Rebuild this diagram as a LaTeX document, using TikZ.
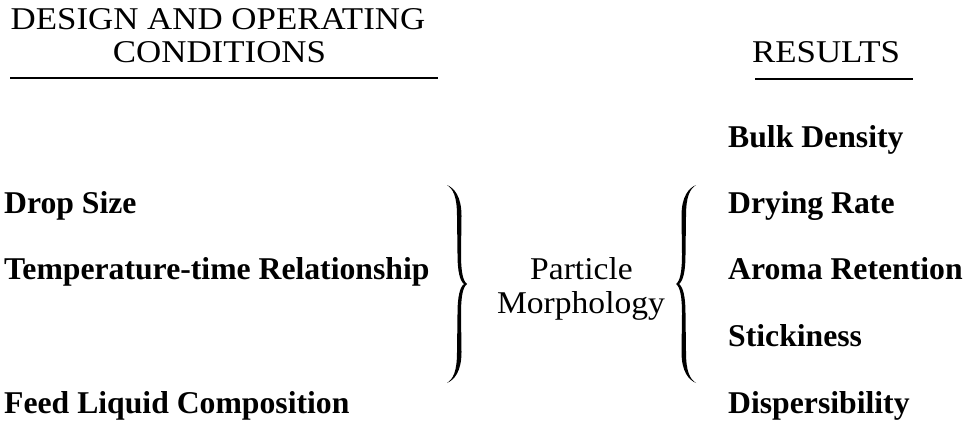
\documentclass[tikz,border=0pt]{standalone}
\usepackage{fontspec}
\setmainfont{Liberation Serif}
\newfontfamily\headfont[FakeStretch=1.1]{Liberation Serif}
\newfontfamily\midfont[FakeStretch=1.06]{Liberation Serif}
\usepackage{tikz}

\tikzset{
  item/.style={anchor=base west, inner sep=0pt, font=\fontsize{31.7}{36}\selectfont\bfseries},
  head/.style={anchor=base, inner sep=0pt, font=\fontsize{31.7}{36}\headfont},
  mid/.style={anchor=base, inner sep=0pt, font=\fontsize{31.7}{36}\midfont},
  rule/.style={black, line width=2pt},
  % llave que abre hacia la izquierda, punta a la derecha
  curly/.pic={
    \fill (-10,-99) .. controls (-3,-96) and (4.5,-88) .. (4.5,-68) -- (4,-30)
      .. controls (4,-12) and (6,-3) .. (10,0)
      .. controls (6,3) and (4,12) .. (4,30) -- (4.5,68)
      .. controls (4.5,88) and (-3,96) .. (-10,99)
      .. controls (-4,95) and (0,88) .. (0,68) -- (0.5,30)
      .. controls (0.5,12) and (3,3) .. (7,0)
      .. controls (3,-3) and (0.5,-12) .. (0.5,-30) -- (0,-68)
      .. controls (0,-88) and (-4,-95) .. (-10,-99) -- cycle;
  },
}

\begin{document}
\begin{tikzpicture}[x=1pt,y=-1pt]

    \useasboundingbox (0,0) rectangle (979,420);

    % titulos
    \node[head] (cond1) at (218,30) {DESIGN AND OPERATING};
    \node[head] (cond2) at (219.5,63) {CONDITIONS};
    \node[head] (res) at (826,63) {RESULTS};
    \draw[rule] (10,78) -- (438,78);
    \draw[rule] (755,79) -- (913,79);

    % condiciones
    \node[item] (drop) at (4,213) {Drop Size};
    \node[item] (temp) at (4,279) {Temperature-time Relationship};
    \node[item] (feed) at (4,413) {Feed Liquid Composition};

    % llaves
    \pic (bra) at (457,284) {curly};
    \pic[xscale=-1] (brb) at (686,284) {curly};

    % centro
    \node[mid] (part) at (581.5,279) {Particle};
    \node[mid] (morph) at (581,313) {Morphology};

    % resultados
    \node[item] (bulk) at (728,147) {Bulk Density};
    \node[item] (dry) at (728,213) {Drying Rate};
    \node[item] (aroma) at (728,279) {Aroma Retention};
    \node[item] (stick) at (728,346) {Stickiness};
    \node[item] (disp) at (728,413) {Dispersibility};

\end{tikzpicture}
\end{document}
